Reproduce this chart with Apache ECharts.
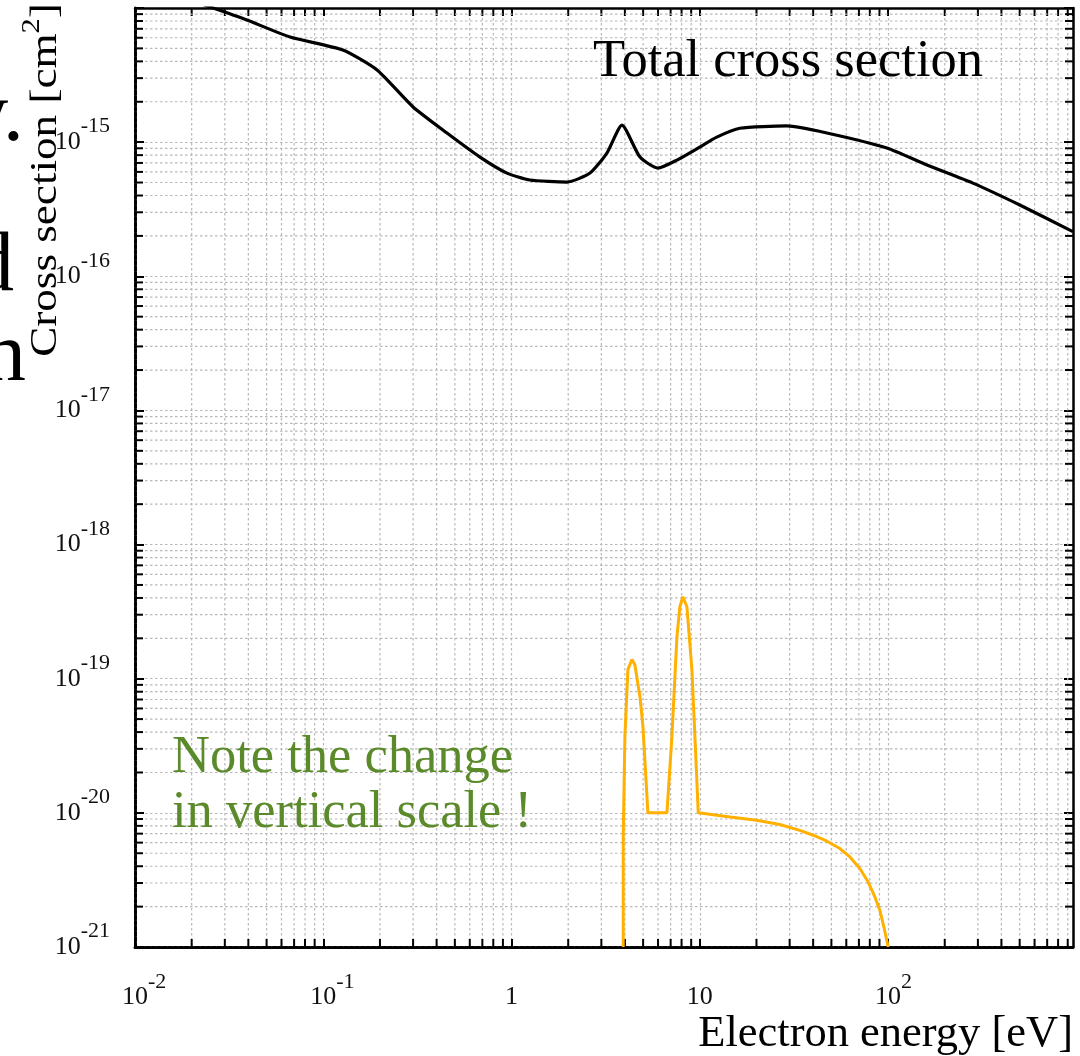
<!DOCTYPE html>
<html><head><meta charset="utf-8">
<script src="https://cdn.jsdelivr.net/npm/echarts@6/dist/echarts.min.js"></script>
<style>html,body{margin:0;padding:0;background:#fff}#c{width:1080px;height:1056px}</style>
</head><body><div id="c"></div>
<script>
// ---- data, energies in eV, cross sections in cm^2 ----
const totalEnergy = [0.02, 0.026, 0.0393, 0.0666, 0.127, 0.193, 0.300, 0.454, 0.680, 0.945, 1.25, 1.97, 2.61, 3.21, 3.86, 4.81, 5.99, 7.56, 10.0, 12.3, 16.3, 29.0, 47.3, 98.5, 161, 282, 501, 924, 960];
const totalCross  = [1.13e-14, 1.0e-14, 8.14e-15, 6.08e-15, 4.86e-15, 3.45e-15, 1.83e-15, 1.17e-15, 7.74e-16, 5.88e-16, 5.22e-16, 5.04e-16, 5.88e-16, 8.29e-16, 1.34e-15, 7.74e-16, 6.41e-16, 7.35e-16, 9.19e-16, 1.09e-15, 1.27e-15, 1.32e-15, 1.17e-15, 9.04e-16, 6.75e-16, 4.95e-16, 3.40e-16, 2.21e-16, 2.15e-16];
const vibEnergy = [3.92, 3.92, 4.00, 4.15, 4.36, 4.52, 4.81, 4.99, 5.30, 6.69, 7.11, 7.56, 7.84, 8.13, 8.54, 9.08, 9.42, 9.81, 14.5, 20.0, 26.6, 34.0, 40.0, 47.1, 55.5, 62.7, 70.8, 78.4, 85.1, 90.4, 95.0, 100.2];
const vibCross  = [1e-21, 6.65e-21, 3.70e-20, 1.17e-19, 1.39e-19, 1.27e-19, 7.34e-20, 4.39e-20, 1.00e-20, 1.00e-20, 3.70e-20, 2.06e-19, 3.44e-19, 4.08e-19, 3.44e-19, 1.17e-19, 3.70e-20, 1.00e-20, 9.31e-21, 8.81e-21, 8.18e-21, 7.41e-21, 6.81e-21, 6.17e-21, 5.42e-21, 4.69e-21, 3.85e-21, 3.05e-21, 2.36e-21, 1.88e-21, 1.41e-21, 1e-21];

// ---- axis ticks ----
const X_MIN = 0.01, X_MAX = 960;
const xMajorTicks = [0.01, 0.1, 1, 10, 100];
const xTickLabels = ['10^-2', '10^-1', '1', '10', '10^2'];
const yMajorTicks = [1e-21, 1e-20, 1e-19, 1e-18, 1e-17, 1e-16, 1e-15, 1e-14];
const yTickLabels = ['10^-21', '10^-20', '10^-19', '10^-18', '10^-17', '10^-16', '10^-15', ''];
const xMinorTicks = [0.02,0.03,0.04,0.05,0.06,0.07,0.08,0.09, 0.2,0.3,0.4,0.5,0.6,0.7,0.8,0.9, 2,3,4,5,6,7,8,9, 20,30,40,50,60,70,80,90, 200,300,400,500,600,700,800,900];
const yMinorTicks = [2e-21,3e-21,4e-21,5e-21,6e-21,7e-21,8e-21,9e-21, 2e-20,3e-20,4e-20,5e-20,6e-20,7e-20,8e-20,9e-20, 2e-19,3e-19,4e-19,5e-19,6e-19,7e-19,8e-19,9e-19, 2e-18,3e-18,4e-18,5e-18,6e-18,7e-18,8e-18,9e-18, 2e-17,3e-17,4e-17,5e-17,6e-17,7e-17,8e-17,9e-17, 2e-16,3e-16,4e-16,5e-16,6e-16,7e-16,8e-16,9e-16, 2e-15,3e-15,4e-15,5e-15,6e-15,7e-15,8e-15,9e-15];

// the log axis works in units of 1e-21 cm^2 (ECharts rounds values below 1e-20 to 0)
const Y_UNIT = 1e-21;
const Y_UNIT_EXP = -21;
const ys = v => v / Y_UNIT;

const SERIF = '"Liberation Serif", "Times New Roman", serif';
const GRID_COLOR = '#b8b8b8';
const GRID_DASH = [2.5, 2.5];

function richLabel(ticks, labels, expShift, centerBase) {
  return function (v) {
    const lv = Math.log10(v) + expShift;
    const i = ticks.findIndex(t => Math.abs(Math.log10(t) - lv) < 1e-6);
    if (i < 0) return '';
    const l = labels[i];
    if (!l) return '';
    if (l.indexOf('^') >= 0) {
      const p = l.split('^');
      return (centerBase ? '{p|' + p[1] + '}' : '') + '{b|' + p[0] + '}{s|' + p[1] + '}';
    }
    return '{b|' + l + '}';
  };
}
const LH = 39.5;
const labelRich = {
  b: { fontFamily: SERIF, fontSize: 26, lineHeight: LH, verticalAlign: 'bottom', color: '#111' },
  s: { fontFamily: SERIF, fontSize: 22, lineHeight: 22, verticalAlign: 'top', color: '#111' },
  p: { fontFamily: SERIF, fontSize: 22, lineHeight: 22, verticalAlign: 'top', color: 'rgba(0,0,0,0)' }
};

function minorXItem(params, api) {
  const cs = params.coordSys;
  const x = api.coord([api.value(0), api.value(1)])[0];
  const top = cs.y, bot = cs.y + cs.height;
  return { type: 'group', children: [
    { type: 'line', shape: { x1: x, y1: top, x2: x, y2: bot }, style: { stroke: GRID_COLOR, lineWidth: 1.2, lineDash: GRID_DASH } },
    { type: 'line', shape: { x1: x, y1: bot, x2: x, y2: bot - 8 }, style: { stroke: '#000', lineWidth: 2 } },
    { type: 'line', shape: { x1: x, y1: top, x2: x, y2: top + 8 }, style: { stroke: '#000', lineWidth: 2 } }
  ]};
}
function minorYItem(params, api) {
  const cs = params.coordSys;
  const y = api.coord([api.value(0), api.value(1)])[1];
  const l = cs.x, r = cs.x + cs.width;
  return { type: 'group', children: [
    { type: 'line', shape: { x1: l, y1: y, x2: r, y2: y }, style: { stroke: GRID_COLOR, lineWidth: 1.2, lineDash: GRID_DASH } },
    { type: 'line', shape: { x1: l, y1: y, x2: l + 8, y2: y }, style: { stroke: '#000', lineWidth: 2 } },
    { type: 'line', shape: { x1: r, y1: y, x2: r - 8, y2: y }, style: { stroke: '#000', lineWidth: 2 } }
  ]};
}

const chart = echarts.init(document.getElementById('c'), null, { renderer: 'canvas' });
const xBase = { type: 'log', logBase: 10, min: X_MIN, max: X_MAX, splitNumber: 5 };
const yBase = { type: 'log', logBase: 10, min: ys(yMajorTicks[0]), max: ys(yMajorTicks[yMajorTicks.length - 1]), splitNumber: 7 };

chart.setOption({
  animation: false,
  backgroundColor: '#fff',
  grid: { left: 135, top: 8, right: 7, bottom: 109, containLabel: false },
  xAxis: [
    Object.assign({}, xBase, {
      position: 'bottom',
      axisLine: { show: true, onZero: false, lineStyle: { color: '#000', width: 3, type: [4, 1.5] } },
      axisTick: { show: true, inside: true, length: 8, lineStyle: { color: '#000', width: 2 } },
      splitLine: { show: true, lineStyle: { color: GRID_COLOR, width: 1.2, type: GRID_DASH } },
      axisLabel: { show: true, margin: 24, formatter: richLabel(xMajorTicks, xTickLabels, 0, true), rich: labelRich, showMinLabel: true, showMaxLabel: false }
    }),
    Object.assign({}, xBase, {
      position: 'top',
      axisLine: { show: true, onZero: false, lineStyle: { color: '#000', width: 2.5 } },
      axisTick: { show: true, inside: true, length: 8, lineStyle: { color: '#000', width: 2 } },
      splitLine: { show: false },
      axisLabel: { show: false }
    })
  ],
  yAxis: [
    Object.assign({}, yBase, {
      position: 'left',
      axisLine: { show: true, onZero: false, lineStyle: { color: '#000', width: 3, type: [4, 1.5] } },
      axisTick: { show: true, inside: true, length: 9, lineStyle: { color: '#000', width: 2 } },
      splitLine: { show: true, lineStyle: { color: GRID_COLOR, width: 1.2, type: GRID_DASH } },
      axisLabel: { show: true, margin: 25, padding: [0, 0, 13.5, 0], formatter: richLabel(yMajorTicks, yTickLabels, Y_UNIT_EXP, false), rich: labelRich, showMinLabel: true, showMaxLabel: true }
    }),
    Object.assign({}, yBase, {
      position: 'right',
      axisLine: { show: true, onZero: false, lineStyle: { color: '#000', width: 2.5 } },
      axisTick: { show: true, inside: true, length: 9, lineStyle: { color: '#000', width: 2 } },
      splitLine: { show: false },
      axisLabel: { show: false }
    })
  ],
  series: [
    { type: 'custom', name: 'xMinor', xAxisIndex: 0, yAxisIndex: 0, z: 1, silent: true,
      renderItem: minorXItem, data: xMinorTicks.map(v => [v, 1000]) },
    { type: 'custom', name: 'yMinor', xAxisIndex: 0, yAxisIndex: 0, z: 1, silent: true,
      renderItem: minorYItem, data: yMinorTicks.map(v => [1, ys(v)]) },
    { type: 'line', name: 'Total cross section', xAxisIndex: 0, yAxisIndex: 0, z: 5,
      data: totalEnergy.map((e, i) => [e, ys(totalCross[i])]),
      showSymbol: false, smooth: 0.2, clip: true,
      lineStyle: { color: '#000', width: 3.2 } },
    { type: 'line', name: 'Vibrational', xAxisIndex: 0, yAxisIndex: 0, z: 5,
      data: vibEnergy.map((e, i) => [e, ys(vibCross[i])]),
      showSymbol: false, smooth: false, clip: true,
      lineStyle: { color: '#FFB000', width: 3 } }
  ],
  graphic: [
    { type: 'text', x: 593, y: 62, z: 10, style: { text: 'Total cross section', fontFamily: SERIF, fontSize: 52.5, fill: '#000', align: 'left', verticalAlign: 'middle' } },
    { type: 'text', x: 172, y: 758, z: 10, style: { text: 'Note the change', fontFamily: SERIF, fontSize: 52.5, fill: '#5b8a2a', align: 'left', verticalAlign: 'middle' } },
    { type: 'text', x: 172, y: 813, z: 10, style: { text: 'in vertical scale !', fontFamily: SERIF, fontSize: 52.5, fill: '#5b8a2a', align: 'left', verticalAlign: 'middle' } },
    { type: 'text', x: 1073, y: 1034, z: 10, style: { text: 'Electron energy [eV]', fontFamily: SERIF, fontSize: 44.5, fill: '#000', align: 'right', verticalAlign: 'middle' } },
    { type: 'text', x: 46, y: 180, rotation: Math.PI / 2, scaleX: 1.22, z: 10, style: {
        text: '{n|Cross section [cm}{s|2}{n|]}', align: 'center', verticalAlign: 'middle', fill: '#000',
        rich: { n: { fontFamily: SERIF, fontSize: 37, fill: '#000' },
                s: { fontFamily: SERIF, fontSize: 25, padding: [0, 0, 28, 0], fill: '#000' } } } },
    { type: 'text', x: 24, y: 118, z: 10, style: { text: 'y.', fontFamily: SERIF, fontSize: 85, fill: '#000', align: 'right', verticalAlign: 'middle' } },
    { type: 'text', x: 14, y: 268, z: 10, style: { text: 'd', fontFamily: SERIF, fontSize: 85, fill: '#000', align: 'right', verticalAlign: 'middle' } },
    { type: 'text', x: 26, y: 358, z: 10, style: { text: 'n', fontFamily: SERIF, fontSize: 85, fill: '#000', align: 'right', verticalAlign: 'middle' } }
  ]
});
</script>
</body></html>
